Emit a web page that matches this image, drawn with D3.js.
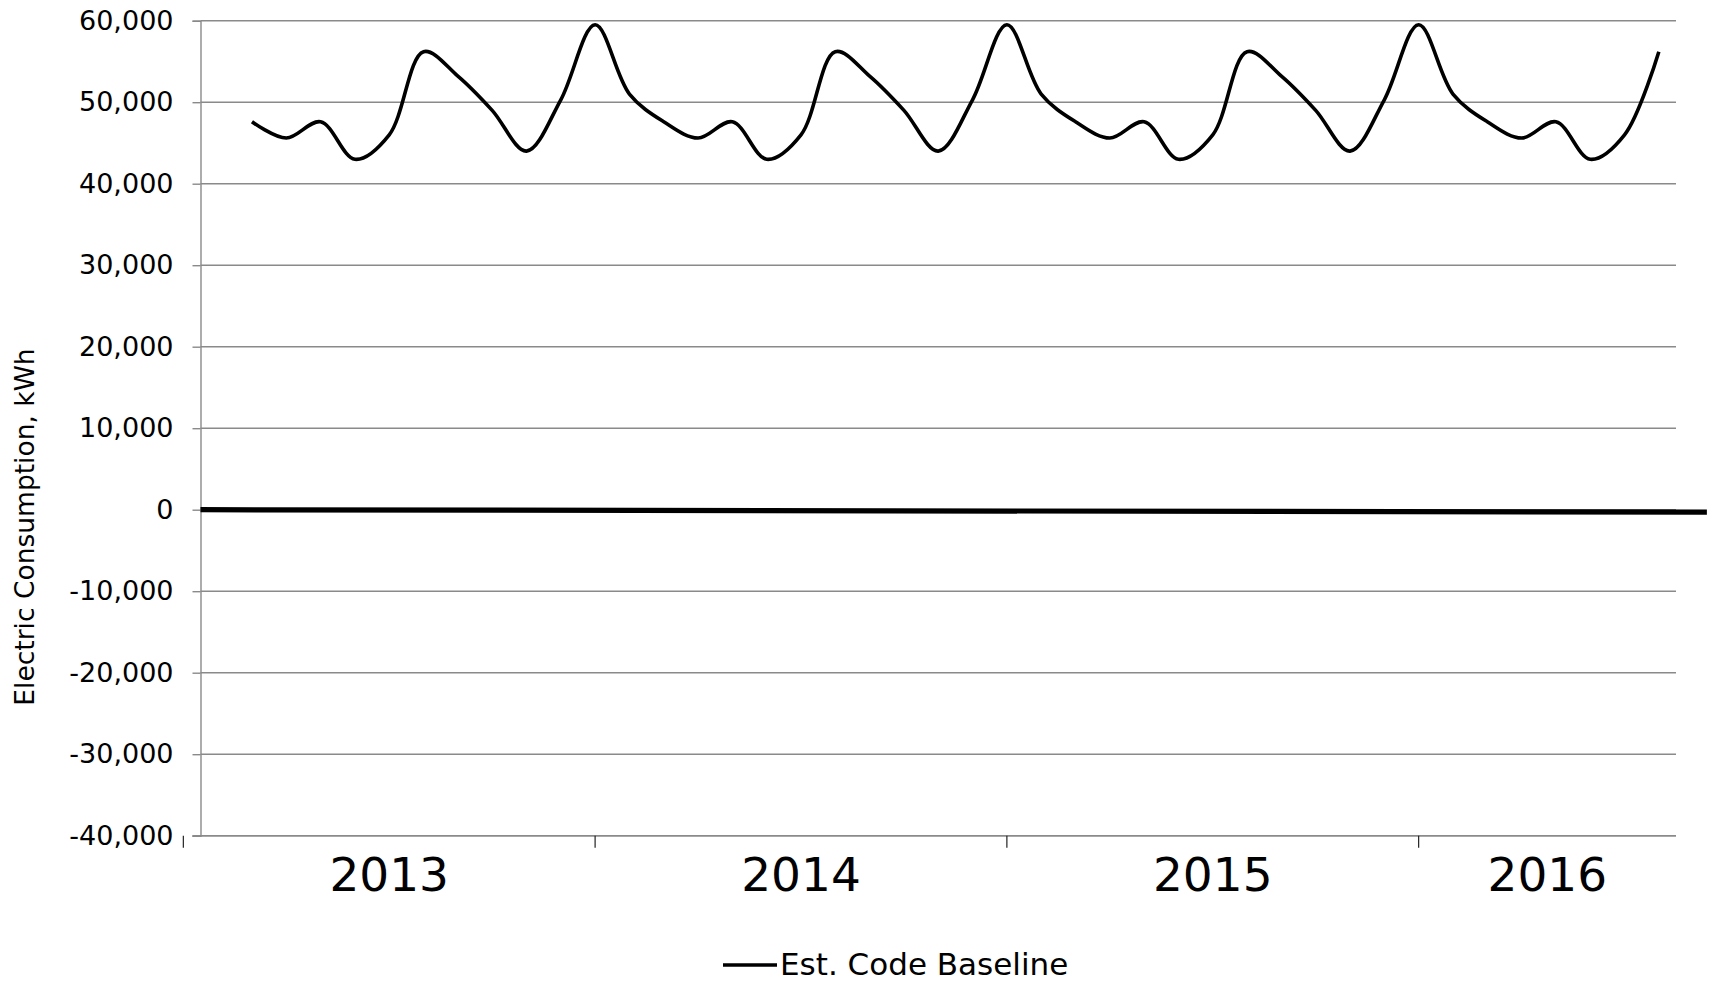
<!DOCTYPE html>
<html>
<head>
<meta charset="utf-8">
<script src="https://cdn.jsdelivr.net/npm/d3@7"></script>
<style>
  html, body { margin: 0; padding: 0; background: #fff; }
  svg { display: block; }
  text { font-family: "DejaVu Sans", Verdana, sans-serif; fill: #000; }
</style>
</head>
<body>
<svg id="chart" width="1711" height="982"></svg>
<script>
// Monthly electric consumption, March 2013 through August 2016
const months = [
  "2013-03","2013-04","2013-05","2013-06","2013-07","2013-08","2013-09","2013-10","2013-11","2013-12",
  "2014-01","2014-02","2014-03","2014-04","2014-05","2014-06","2014-07","2014-08","2014-09","2014-10","2014-11","2014-12",
  "2015-01","2015-02","2015-03","2015-04","2015-05","2015-06","2015-07","2015-08","2015-09","2015-10","2015-11","2015-12",
  "2016-01","2016-02","2016-03","2016-04","2016-05","2016-06","2016-07","2016-08"
];
const baselineKWh = [
  47600, 45600, 47600, 43000, 46000, 56200, 53200, 49000, 44000, 50300,
  59500, 51000, 47600, 45600, 47600, 43000, 46000, 56200, 53200, 49000, 44000, 50300,
  59500, 51000, 47600, 45600, 47600, 43000, 46000, 56200, 53200, 49000, 44000, 50300,
  59500, 51000, 47600, 45600, 47600, 43000, 46000, 56200
];
const seriesName = "Est. Code Baseline";

// Thick reference line near zero (position in months from March 2013, kWh)
const zeroLineMonth = [-1.5, 42.4];
const zeroLineKWh = [0, -300];

// Year groups on the horizontal axis: January of each year, in months from March 2013
const yearLabels = ["2013", "2014", "2015", "2016"];
const yearStartMonth = [-2, 10, 22, 34];

const yTicks = [-40000, -30000, -20000, -10000, 0, 10000, 20000, 30000, 40000, 50000, 60000];
const yTitle = "Electric Consumption, kWh";

const svg = d3.select("#chart");
const plot = { left: 200.5, right: 1676, top: 20.7, bottom: 835.7 };
const xDomain = [-1.5, 41.5];

const x = d3.scaleLinear().domain(xDomain).range([plot.left, plot.right]);
const y = d3.scaleLinear().domain([-40000, 60000]).range([plot.bottom, plot.top]);
const fmt = v => d3.format(",")(v).replace("\u2212", "-");
const gridColor = "#8a8a8a";

// horizontal gridlines
svg.append("g")
  .selectAll("line")
  .data(yTicks)
  .join("line")
  .attr("x1", plot.left).attr("x2", plot.right)
  .attr("y1", d => y(d)).attr("y2", d => y(d))
  .attr("stroke", gridColor).attr("stroke-width", 1.4);

// vertical axis with outward ticks
const yAxis = svg.append("g")
  .attr("transform", `translate(${plot.left},0)`)
  .call(d3.axisLeft(y).tickValues(yTicks).tickSize(8).tickPadding(19).tickFormat(fmt));
yAxis.select(".domain").attr("stroke", gridColor).attr("stroke-width", 1.4);
yAxis.selectAll(".tick line").attr("stroke", gridColor).attr("stroke-width", 1.4);
yAxis.selectAll(".tick text")
  .attr("font-size", 27)
  .attr("font-family", "DejaVu Sans, Verdana, sans-serif")
  .attr("fill", "#000");

// horizontal axis line
svg.append("line")
  .attr("x1", plot.left - 8).attr("x2", plot.right)
  .attr("y1", y(-40000)).attr("y2", y(-40000))
  .attr("stroke", gridColor).attr("stroke-width", 1.6);

// year separators
svg.append("g")
  .selectAll("line")
  .data(yearStartMonth)
  .join("line")
  .attr("x1", d => x(d)).attr("x2", d => x(d))
  .attr("y1", y(-40000)).attr("y2", y(-40000) + 12)
  .attr("stroke", "#222").attr("stroke-width", 1.2);

// year labels, centred in each year's span
const yearSpans = yearStartMonth.map((s, i) => {
  const hi = i < yearStartMonth.length - 1 ? yearStartMonth[i + 1] : xDomain[1];
  return (s + hi) / 2;
});
svg.append("g")
  .selectAll("text")
  .data(yearLabels)
  .join("text")
  .attr("x", (d, i) => x(yearSpans[i]))
  .attr("y", 891)
  .attr("text-anchor", "middle")
  .attr("font-size", 47)
  .text(d => d);

// near-zero thick line
const zeroData = zeroLineMonth.map((m, i) => ({ m, v: zeroLineKWh[i] }));
svg.append("path")
  .datum(zeroData)
  .attr("d", d3.line().x(d => x(d.m)).y(d => y(d.v)))
  .attr("fill", "none")
  .attr("stroke", "#000")
  .attr("stroke-width", 5.2);

// baseline consumption, smoothed
const series = baselineKWh.map((v, i) => ({ i, v, month: months[i] }));
svg.append("path")
  .datum(series)
  .attr("d", d3.line().x(d => x(d.i)).y(d => y(d.v)).curve(d3.curveCatmullRom.alpha(0.5)))
  .attr("fill", "none")
  .attr("stroke", "#000")
  .attr("stroke-width", 3.6)
  .attr("stroke-linejoin", "round");

// axis title
svg.append("text")
  .attr("transform", `translate(34,527) rotate(-90)`)
  .attr("text-anchor", "middle")
  .attr("font-size", 26.5)
  .text(yTitle);

// legend
const legend = svg.append("g").attr("transform", "translate(723,965)");
legend.append("line")
  .attr("x1", 0).attr("x2", 54).attr("y1", 0).attr("y2", 0)
  .attr("stroke", "#000").attr("stroke-width", 3.6);
legend.append("text")
  .attr("x", 57).attr("y", 10)
  .attr("font-size", 31)
  .text(seriesName);
</script>
</body>
</html>
